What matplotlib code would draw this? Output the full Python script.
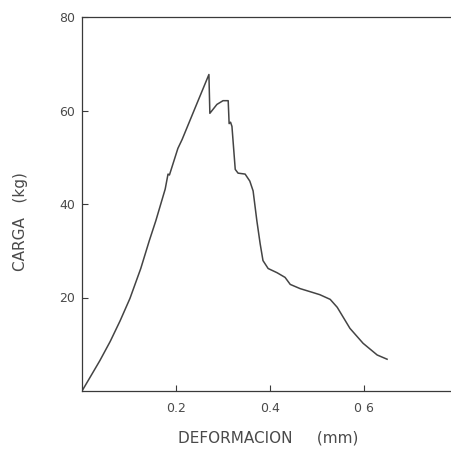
import matplotlib
matplotlib.use("Agg")
import matplotlib.pyplot as plt

# load-deformation curve
deform = [0, 0.017, 0.038, 0.060, 0.081, 0.102, 0.125, 0.143, 0.157, 0.177,
          0.183, 0.186, 0.204, 0.213, 0.24, 0.270, 0.272, 0.287, 0.300, 0.311,
          0.313, 0.316, 0.319, 0.326, 0.332, 0.347, 0.357, 0.364, 0.372, 0.379,
          0.385, 0.396, 0.415, 0.432, 0.443, 0.464, 0.490, 0.506, 0.528, 0.543,
          0.570, 0.598, 0.628, 0.649]
carga = [0, 2.9, 6.5, 10.6, 15.0, 19.8, 26.2, 32.1, 36.4, 43.2,
         46.4, 46.2, 51.9, 53.8, 60.4, 67.7, 59.4, 61.3, 62.1, 62.1,
         57.2, 57.5, 56.6, 47.4, 46.6, 46.4, 44.9, 42.8, 36.4, 31.5,
         27.9, 26.2, 25.3, 24.3, 22.8, 21.9, 21.1, 20.6, 19.6, 17.9,
         13.4, 10.2, 7.7, 6.8]

xticks = [0.2, 0.4, 0.6]
yticks = [20, 40, 60, 80]

txt = "#4a4a4a"
ink = "#3a3a3a"

fig = plt.figure(figsize=(4.51, 4.53), dpi=100)
ax = fig.add_axes([82 / 451, 62 / 453, 369 / 451, 374 / 453])

ax.plot(deform, carga, color="#444444", lw=1.1)

ax.set_xlim(0, 0.785)
ax.set_ylim(0, 80)
ax.set_xticks(xticks)
ax.set_xticklabels(["0.2", "0.4", "0 6"])
ax.set_yticks(yticks)

ax.spines["right"].set_visible(False)
for s in ["left", "bottom", "top"]:
    ax.spines[s].set_color(ink)
    ax.spines[s].set_linewidth(0.9)

ax.tick_params(direction="in", length=4, width=0.8, color=ink,
               labelsize=9, labelcolor=txt)
ax.tick_params(axis="x", pad=8)
ax.tick_params(axis="y", pad=5)

ax.set_xlabel("DEFORMACION     (mm)", fontsize=11, color=txt, va="center")
ax.xaxis.set_label_coords(0.504, -0.126)
ax.set_ylabel("CARGA   (kg)", fontsize=11, color=txt, va="center")
ax.yaxis.set_label_coords(-0.168, 0.452)

fig.savefig("out.png", dpi=100)
